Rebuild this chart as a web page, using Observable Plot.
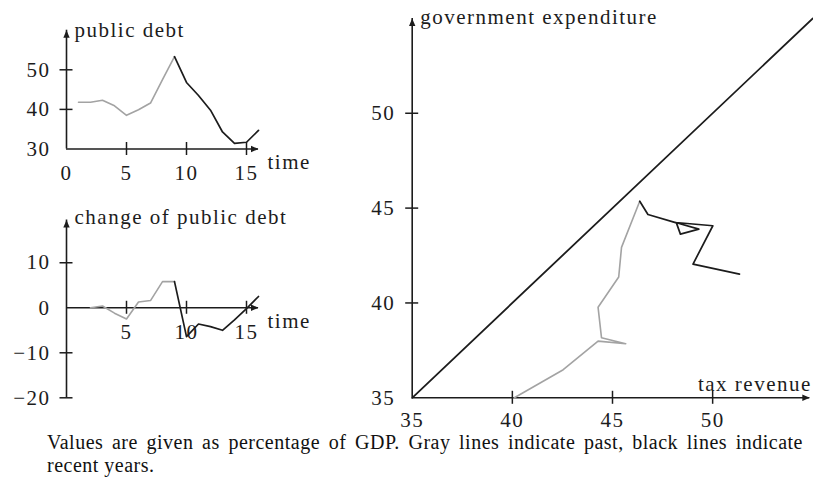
<!DOCTYPE html>
<html><head><meta charset="utf-8">
<script src="https://cdn.jsdelivr.net/npm/d3@7"></script>
<script src="https://cdn.jsdelivr.net/npm/@observablehq/plot@0.6"></script>
<style>
html,body{margin:0;padding:0;background:#fff;}
#wrap{position:relative;width:813px;height:488px;overflow:hidden;background:#fff;}
.panel{position:absolute;}
.panel svg{background:transparent;}
.panel svg text{letter-spacing:1.5px;font-family:"Liberation Serif","DejaVu Serif",serif;}
#caption{position:absolute;left:47px;top:431px;width:756px;font-family:"Liberation Serif","DejaVu Serif",serif;font-size:20px;line-height:22px;color:#111;letter-spacing:0.5px;}
#caption .l1{text-align:justify;text-align-last:justify;white-space:nowrap;}
#caption .l2{margin-top:1px;}
</style></head>
<body><div id="wrap">
<div class="panel" id="p1" style="left:0;top:0"></div>
<div class="panel" id="p2" style="left:0;top:190px"></div>
<div class="panel" id="p3" style="left:340px;top:0"></div>
<div id="caption"><div class="l1">Values are given as percentage of GDP. Gray lines indicate past, black lines indicate</div><div class="l2">recent years.</div></div>
</div>
<script>
// ---- data (percentage of GDP) ----
const years        = [1, 2, 3, 4, 5, 6, 7, 8, 9, 10, 11, 12, 13, 14, 15, 16];
const publicDebt   = [41.8, 41.8, 42.3, 40.9, 38.5, 39.9, 41.6, 47.5, 53.3, 46.8, 43.5, 39.8, 34.3, 31.4, 31.7, 34.7];
const changeYears  = [2, 3, 4, 5, 6, 7, 8, 9, 10, 11, 12, 13, 14, 15, 16];
const debtChange   = [0.0, 0.4, -1.2, -2.5, 1.3, 1.6, 5.8, 5.8, -6.4, -3.6, -4.2, -5.0, -2.7, -0.2, 2.5];
const taxRevenue     = [40.1, 42.54, 44.28, 45.66, 44.45, 44.28, 45.31, 45.45, 46.36, 46.77, 48.19, 48.39, 49.31, 48.15, 50.01, 49.02, 51.34];
const govExpenditure = [35.0, 36.48, 37.99, 37.85, 38.17, 39.77, 41.37, 42.93, 45.36, 44.66, 44.22, 43.63, 43.89, 44.24, 44.07, 42.05, 41.52];
const recentStartYear  = 9;   // first year drawn in black (time charts)
const recentStartIndex = 8;   // first point drawn in black (scatter)

// ticks / labels
const debtXLabels   = [0, 5, 10, 15];
const debtXTicks    = [5, 10, 15];
const debtYLabels   = [30, 40, 50];
const debtYTicks    = [40, 50];
const changeXLabels = [5, 10, 15];
const changeYLabels = [10, 0, -10, -20];
const changeYTicks  = [10, -10, -20];
const scatterLabels = [35, 40, 45, 50];
const scatterTicks  = [40, 45, 50];
const diagonal      = [35, 55];

const ink = "#1c1c1c", past = "#a3a3a3";
const font = "'Liberation Serif', 'DejaVu Serif', serif";
const fs = 21;
const fmt = d3.format("d");

const arrowRight = {draw(c){c.moveTo(0,0);c.lineTo(-7.5,-3.2);c.lineTo(-7.5,3.2);c.closePath();}};
const arrowUp    = {draw(c){c.moveTo(0,0);c.lineTo(-3.2,7.5);c.lineTo(3.2,7.5);c.closePath();}};

function axes(o) {
  const T = {fontFamily: font, fontSize: fs, fill: ink};
  return [
    Plot.ruleY([o.y0], {y: d => d, x1: () => o.x0, x2: () => o.xEnd, stroke: ink, strokeWidth: 1.6}),
    Plot.ruleX([o.x0], {x: d => d, y1: () => o.yStart, y2: () => o.yEnd, stroke: ink, strokeWidth: 1.6}),
    Plot.dot([o.xEnd], {x: d => d, y: () => o.y0, symbol: arrowRight, fill: ink, stroke: null, r: 3}),
    Plot.dot([o.yEnd], {x: () => o.x0, y: d => d, symbol: arrowUp, fill: ink, stroke: null, r: 3}),
    Plot.ruleX(o.xTicks, {x: d => d, y1: () => o.y0, y2: () => o.y0, insetTop: -6.5, insetBottom: -6.5, stroke: ink, strokeWidth: 1.5}),
    Plot.ruleY(o.yTicks, {y: d => d, x1: () => o.x0, x2: () => o.x0, insetLeft: -6.5, insetRight: -6.5, stroke: ink, strokeWidth: 1.5}),
    Plot.text(o.xLabels, {x: d => d, y: () => o.y0, text: d => fmt(d), dy: o.xLabelDy, textAnchor: "middle", ...T}),
    Plot.text(o.yLabels, {x: () => o.x0, y: d => d, text: d => fmt(d), dx: o.yLabelDx, textAnchor: "end", ...T}),
    Plot.text([o.xTitle], {x: () => o.xEnd, y: () => o.y0, text: d => d, dx: o.xTitleDx, dy: o.xTitleDy, textAnchor: o.xTitleAnchor, ...T}),
    Plot.text([o.yTitle], {x: () => o.x0, y: () => o.yEnd, text: d => d, dx: 8, dy: o.yTitleDy, textAnchor: "start", ...T})
  ];
}

// ---- chart 1: public debt ----
const debtRows = years.map((t, i) => ({t, v: publicDebt[i]}));
const c1 = Plot.plot({
  width: 330, height: 190,
  marginLeft: 66, marginRight: 72, marginTop: 29.7, marginBottom: 41.5,
  x: {domain: [0, 16], axis: null},
  y: {domain: [30, 60], axis: null},
  style: {fontFamily: font, background: "transparent", overflow: "visible"},
  marks: [
    ...axes({x0: 0, y0: 30, xEnd: 16, yStart: 30, yEnd: 60, xTicks: debtXTicks, yTicks: debtYTicks,
      xLabels: debtXLabels, xLabelDy: 24.5, yLabels: debtYLabels, yLabelDx: -16,
      xTitle: "time", xTitleDx: 9, xTitleDy: 13.5, xTitleAnchor: "start",
      yTitle: "public debt", yTitleDy: 0}),
    Plot.line(debtRows.filter(d => d.t <= recentStartYear), {x: "t", y: "v", stroke: past, strokeWidth: 1.6}),
    Plot.line(debtRows.filter(d => d.t >= recentStartYear), {x: "t", y: "v", stroke: ink, strokeWidth: 1.7})
  ]
});
document.getElementById("p1").append(c1);

// ---- chart 2: change of public debt ----
const changeRows = changeYears.map((t, i) => ({t, v: debtChange[i]}));
const c2 = Plot.plot({
  width: 330, height: 230,
  marginLeft: 66, marginRight: 72, marginTop: 29.5, marginBottom: 22.7,
  x: {domain: [0, 16], axis: null},
  y: {domain: [-20, 19.5], axis: null},
  style: {fontFamily: font, background: "transparent", overflow: "visible"},
  marks: [
    ...axes({x0: 0, y0: 0, xEnd: 16, yStart: -20, yEnd: 19.5, xTicks: changeXLabels, yTicks: changeYTicks,
      xLabels: changeXLabels, xLabelDy: 24.5, yLabels: changeYLabels, yLabelDx: -16,
      xTitle: "time", xTitleDx: 9, xTitleDy: 13.6, xTitleAnchor: "start",
      yTitle: "change of public debt", yTitleDy: -2.6}),
    Plot.line(changeRows.filter(d => d.t <= recentStartYear), {x: "t", y: "v", stroke: past, strokeWidth: 1.6}),
    Plot.line(changeRows.filter(d => d.t >= recentStartYear), {x: "t", y: "v", stroke: ink, strokeWidth: 1.7})
  ]
});
document.getElementById("p2").append(c2);

// ---- chart 3: tax revenue vs government expenditure ----
const pathRows = taxRevenue.map((x, i) => ({i, x, y: govExpenditure[i]}));
const c3 = Plot.plot({
  width: 473, height: 420,
  marginLeft: 71.7, marginRight: 0.7, marginTop: 17.9, marginBottom: 22.7,
  x: {domain: [35, 55], axis: null},
  y: {domain: [35, 55], axis: null},
  style: {fontFamily: font, background: "transparent", overflow: "visible"},
  marks: [
    ...axes({x0: 35, y0: 35, xEnd: 54.85, yStart: 35, yEnd: 55, xTicks: scatterTicks, yTicks: scatterTicks,
      xLabels: scatterLabels, xLabelDy: 22, yLabels: scatterLabels, yLabelDx: -17,
      xTitle: "tax revenue", xTitleDx: 2, xTitleDy: -14, xTitleAnchor: "end",
      yTitle: "government expenditure", yTitleDy: -1.6}),
    Plot.line(diagonal, {x: d => d, y: d => d, stroke: ink, strokeWidth: 1.8}),
    Plot.line(pathRows.filter(d => d.i <= recentStartIndex), {x: "x", y: "y", stroke: past, strokeWidth: 1.6}),
    Plot.line(pathRows.filter(d => d.i >= recentStartIndex), {x: "x", y: "y", stroke: ink, strokeWidth: 1.7})
  ]
});
document.getElementById("p3").append(c3);
</script>
</body></html>
